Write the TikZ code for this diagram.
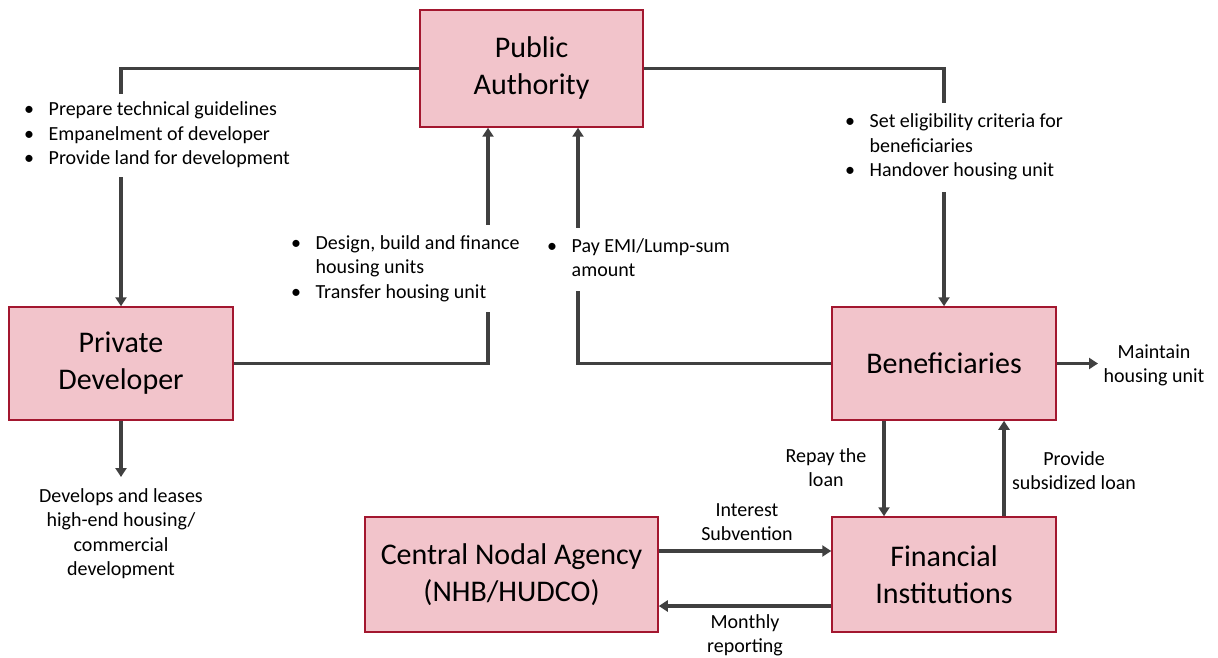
\documentclass[tikz,border=0pt]{standalone}
\usepackage{fontspec}
\setmainfont{Carlito}
\usetikzlibrary{arrows.meta}
\definecolor{boxfill}{HTML}{F2C4CB}
\definecolor{boxline}{HTML}{A3172F}
\definecolor{conn}{HTML}{404040}
\newcommand{\bulletmark}{\makebox[24.5pt][l]{\textbullet}}
\begin{document}
\begin{tikzpicture}[x=1pt,y=-1pt,
  entity/.style={draw=boxline, line width=1.5pt, fill=boxfill, align=center,
    font=\fontsize{30}{37}\selectfont, inner sep=0pt},
  lbl/.style={fill=white, inner xsep=2pt, inner ysep=5pt, anchor=base west, font=\fontsize{20}{24.5}\selectfont},
  clbl/.style={inner sep=0pt, anchor=base, font=\fontsize{20}{24.5}\selectfont},
  link/.style={draw=conn, line width=3.5pt, -{Triangle[length=9pt,width=11pt]}}]
\useasboundingbox (0,0) rectangle (1218,658);

% entities
\node[entity, minimum width=223pt, minimum height=117pt] (pa) at (531.5,68.5) {Public\\Authority};
\node[entity, minimum width=224pt, minimum height=113pt] (pd) at (121,363.5) {Private\\Developer};
\node[entity, minimum width=224pt, minimum height=113pt] (ben) at (944,363.5) {Beneficiaries};
\node[entity, minimum width=293pt, minimum height=115pt] (cna) at (511.5,574.5) {Central Nodal Agency\\(NHB/HUDCO)};
\node[entity, minimum width=224pt, minimum height=115pt] (fi) at (944,574.5) {Financial\\Institutions};

\coordinate (pdout) at (121,477);
\coordinate (benout) at (1098,363.5);

% connectors
\draw[link] (pa.west) -| (pd.north);
\draw[link] (pd.east) -| ([xshift=-43.5pt]pa.south);
\draw[link] (ben.west) -| ([xshift=46.5pt]pa.south);
\draw[link] (pa.east) -| (ben.north);
\draw[link] (pd.south) -- (pdout);
\draw[link] (ben.east) -- (benout);
\draw[link] ([xshift=-60pt]ben.south) -- ([xshift=-60pt]fi.north);
\draw[link] ([xshift=60pt]fi.north) -- ([xshift=60pt]ben.south);
\draw[link] ([yshift=23.5pt]cna.east) -- ([yshift=23.5pt]cna.east -| fi.west);
\draw[link] ([yshift=-31.5pt]fi.west) -- ([yshift=-31.5pt]fi.west -| cna.east);

% labels
\node[lbl] (l1) at (22,116) {\begin{tabular}[t]{@{}l@{}l@{}}
\bulletmark & Prepare technical guidelines\\
\bulletmark & Empanelment of developer\\
\bulletmark & Provide land for development\end{tabular}};
\node[lbl, inner ysep=8pt] (l2) at (843,128) {\begin{tabular}[t]{@{}l@{}l@{}}
\bulletmark & Set eligibility criteria for\\
 & beneficiaries\\
\bulletmark & Handover housing unit\end{tabular}};
\node[lbl, inner ysep=7pt] (l3) at (289,249) {\begin{tabular}[t]{@{}l@{}l@{}}
\bulletmark & Design, build and finance\\
 & housing units\\
\bulletmark & Transfer housing unit\end{tabular}};
\node[lbl, inner ysep=7pt] (l4) at (545,252) {\begin{tabular}[t]{@{}l@{}l@{}}
\bulletmark & Pay EMI/Lump-sum\\
 & amount\end{tabular}};
\node[clbl] (l5) at (1154,358) {\begin{tabular}[t]{@{}c@{}}Maintain\\housing unit\end{tabular}};
\node[clbl] (l6) at (121,502) {\begin{tabular}[t]{@{}c@{}}Develops and leases\\high-end housing/\\commercial\\development\end{tabular}};
\node[clbl] (l7) at (826,462) {\begin{tabular}[t]{@{}c@{}}Repay the\\loan\end{tabular}};
\node[clbl] (l8) at (1074,465) {\begin{tabular}[t]{@{}c@{}}Provide\\subsidized loan\end{tabular}};
\node[clbl] (l9) at (747,516) {\begin{tabular}[t]{@{}c@{}}Interest\\Subvention\end{tabular}};
\node[clbl] (l10) at (745,628) {\begin{tabular}[t]{@{}c@{}}Monthly\\reporting\end{tabular}};
\end{tikzpicture}
\end{document}
